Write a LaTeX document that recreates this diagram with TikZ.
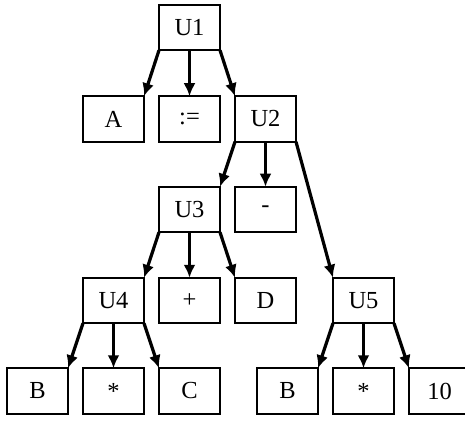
\documentclass[tikz,border=0pt]{standalone}
\usepackage{fontspec}
\setmainfont{Liberation Serif}
\usetikzlibrary{arrows.meta}
\begin{document}
\begin{tikzpicture}[x=1pt,y=-1pt,
  box/.style={draw,line width=1.6pt,minimum width=61pt,minimum height=45.5pt,inner sep=0pt,outer sep=0pt,font=\fontsize{24.5}{24.5}\selectfont},
  arr/.style={line width=3.2pt,-{Latex[length=13pt,width=12pt]}}]
\useasboundingbox (0,0) rectangle (465,446);
\node[box] (u1) at (189.5,27.5) {U1};
\node[box] (a) at (113.5,119) {A};
\node[box] (as) at (189.5,119) {:=};
\node[box] (u2) at (265.5,119) {U2};
\node[box] (u3) at (189.5,209.5) {U3};
\node[box] (mi) at (265.5,209.5) {-};
\node[box] (u4) at (113.5,300.5) {U4};
\node[box] (pl) at (189.5,300.5) {+};
\node[box] (d) at (265.5,300.5) {D};
\node[box] (u5) at (363.5,300.5) {U5};
\node[box] (b1) at (37.5,391) {B};
\node[box] (t1) at (113.5,391) {*};
\node[box] (c) at (189.5,391) {C};
\node[box] (b2) at (287.5,391) {B};
\node[box] (t2) at (363.5,391) {*};
\node[box] (ten) at (439.5,391) {10};
\draw[arr] (u1.south west) -- (a.north east);
\draw[arr] (u1.south) -- (as.north);
\draw[arr] (u1.south east) -- (u2.north west);
\draw[arr] (u2.south west) -- (u3.north east);
\draw[arr] (u2.south) -- (mi.north);
\draw[arr] (u2.south east) -- (u5.north west);
\draw[arr] (u3.south west) -- (u4.north east);
\draw[arr] (u3.south) -- (pl.north);
\draw[arr] (u3.south east) -- (d.north west);
\draw[arr] (u4.south west) -- (b1.north east);
\draw[arr] (u4.south) -- (t1.north);
\draw[arr] (u4.south east) -- (c.north west);
\draw[arr] (u5.south west) -- (b2.north east);
\draw[arr] (u5.south) -- (t2.north);
\draw[arr] (u5.south east) -- (ten.north west);
\end{tikzpicture}
\end{document}
